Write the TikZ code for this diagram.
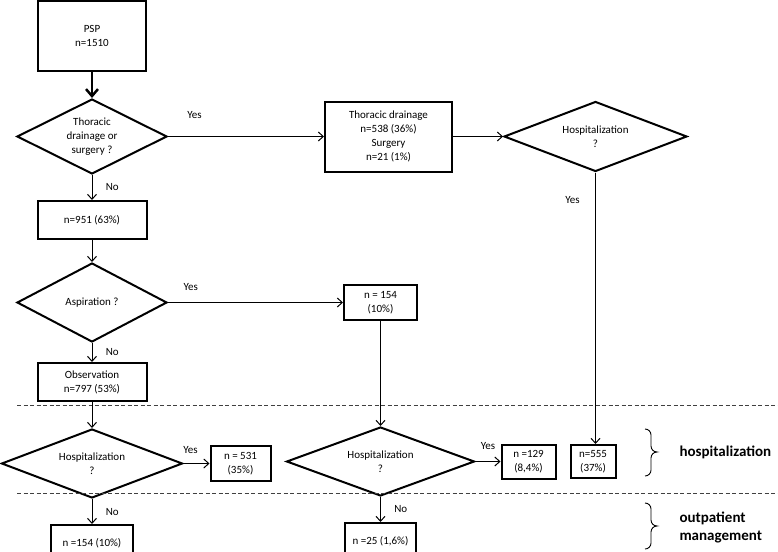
\documentclass[tikz,border=0pt]{standalone}
\usepackage{fontspec}
\setmainfont{Carlito}
\usetikzlibrary{shapes.geometric, arrows.meta, positioning}

\begin{document}
\begin{tikzpicture}[
    x=1pt, y=1pt,
    font=\fontsize{11pt}{14pt}\selectfont,
    box/.style={rectangle, draw, line width=2pt, align=center, inner sep=2pt},
    decision/.style={diamond, draw, line width=2pt, aspect=2, align=center, inner sep=1pt},
    arrow/.style={line width=1pt, -{Straight Barb[length=5pt,width=9pt]}},
    thickarrow/.style={line width=2.5pt, -{Straight Barb[length=7pt,width=12pt]}},
    side/.style={font=\fontsize{15pt}{18pt}\selectfont\bfseries, align=left, anchor=west},
    sepline/.style={dash pattern=on 4pt off 2.5pt, line width=0.9pt, black!75},
    bracket/.style={line width=0.9pt}
]
\useasboundingbox (0,0) rectangle (778,-551);

% Main column
\node (psp) [box, minimum width=108pt, minimum height=70pt] at (92,-36) {PSP\\n=1510};
\node (qdrain) [decision, minimum width=150pt, minimum height=75pt, below=26pt of psp] {Thoracic\\drainage or\\surgery ?};
\node (n951) [box, minimum width=109pt, minimum height=38pt, below=25pt of qdrain] {n=951 (63\%)};
\node (qasp) [decision, minimum width=150pt, minimum height=79pt, below=22pt of n951] {Aspiration ?};
\node (obs) [box, minimum width=109pt, minimum height=38pt, below=19pt of qasp] {Observation\\n=797 (53\%)};
\node (qhospobs) [decision, minimum width=181pt, minimum height=69pt, below=26pt of obs] {Hospitalization\\?};
\node (out154) [box, minimum width=82pt, minimum height=37pt, below=25pt of qhospobs] {n =154 (10\%)};
\node (hosp531) [box, minimum width=60pt, minimum height=35pt, right=26pt of qhospobs] {n = 531\\(35\%)};

% Aspiration branch
\node (asp154) [box, minimum width=73pt, minimum height=35pt, right=175pt of qasp] {n = 154\\(10\%)};
\node (qhospasp) [decision, minimum width=188pt, minimum height=69pt, below=105pt of asp154] {Hospitalization\\?};
\node (out25) [box, minimum width=71pt, minimum height=37pt, below=25pt of qhospasp] {n =25 (1,6\%)};
\node (hosp129) [box, minimum width=54pt, minimum height=34pt, right=25pt of qhospasp] {n =129\\(8,4\%)};

% Drainage branch
\node (drain) [box, minimum width=127pt, minimum height=70pt, right=156pt of qdrain] {Thoracic drainage\\n=538 (36\%)\\Surgery\\n=21 (1\%)};
\node (qhosp) [decision, minimum width=183pt, minimum height=70pt, right=50pt of drain] {Hospitalization\\?};
\node (hosp555) [box, minimum width=45pt, minimum height=33pt, right=13pt of hosp129] {n=555\\(37\%)};

% Side labels
\node (hosplbl) [side] at (676,-452) {hospitalization};
\node (outlbl) [side] at (676,-527) {outpatient\\management};

% Separators
\draw [sepline] (17,-405) -- (778,-405);
\draw [sepline] (17,-493) -- (778,-493);

% Brackets
\draw [bracket] (645,-429) to[out=0,in=90] (651,-435) -- (651,-446) to[out=-90,in=180] (657,-452)
    to[out=180,in=90] (651,-458) -- (651,-470) to[out=-90,in=0] (645,-476);
\draw [bracket] (645,-503) to[out=0,in=90] (651,-509) -- (651,-520) to[out=-90,in=180] (657,-526)
    to[out=180,in=90] (651,-532) -- (651,-543) to[out=-90,in=0] (645,-549);

% Arrows
\draw [thickarrow] (psp) -- (qdrain);
\draw [arrow] (qdrain) -- node[pos=0.17, above=14pt] {Yes} (drain);
\draw [arrow] (drain) -- (qhosp);
\draw [arrow] (qhosp.south) -- node[pos=0.1, left=12pt] {Yes} (qhosp.south |- hosp555.north);
\draw [arrow] (qdrain) -- node[right=10pt] {No} (n951);
\draw [arrow] (n951) -- (qasp);
\draw [arrow] (qasp) -- node[pos=0.13, above=8pt] {Yes} (asp154);
\draw [arrow] (qasp) -- node[right=10pt] {No} (obs);
\draw [arrow] (obs) -- (qhospobs);
\draw [arrow] (qhospobs) -- node[pos=0.27, above=6pt] {Yes} (hosp531);
\draw [arrow] (qhospobs) -- node[right=10pt] {No} (out154);
\draw [arrow] (asp154) -- (qhospasp);
\draw [arrow] (qhospasp) -- node[midway, above=8pt] {Yes} (hosp129);
\draw [arrow] (qhospasp) -- node[right=10pt] {No} (out25);

\end{tikzpicture}
\end{document}
